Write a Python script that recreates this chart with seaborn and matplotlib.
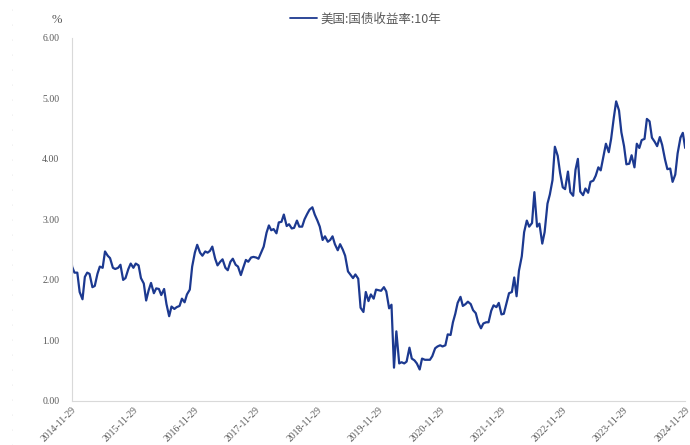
import numpy as np
import pandas as pd
import seaborn as sns
import matplotlib.pyplot as plt
import matplotlib.dates as mdates
from matplotlib.lines import Line2D

# US 10y treasury yield (%), sampled on the 1st and 15th of each month,
# one list per tick year (Dec .. Nov)
start_val = 2.28   # 2014-11-29
end_val = 4.18     # 2024-11-29
y2015 = [2.22, 2.12, 2.12, 1.80, 1.68, 2.05, 2.12, 2.10, 1.88, 1.90, 2.10, 2.22,
         2.20, 2.47, 2.40, 2.36, 2.20, 2.18, 2.20, 2.25, 2.00, 2.03, 2.18, 2.27]
y2016 = [2.20, 2.27, 2.24, 2.03, 1.94, 1.66, 1.83, 1.95, 1.78, 1.86, 1.85, 1.75,
         1.85, 1.60, 1.40, 1.56, 1.52, 1.55, 1.57, 1.69, 1.63, 1.76, 1.84, 2.22]
y2017 = [2.45, 2.58, 2.45, 2.40, 2.47, 2.45, 2.48, 2.55, 2.35, 2.24, 2.30, 2.34,
         2.20, 2.16, 2.30, 2.35, 2.25, 2.22, 2.08, 2.20, 2.33, 2.30, 2.37, 2.38]
y2018 = [2.37, 2.35, 2.46, 2.55, 2.78, 2.90, 2.82, 2.84, 2.77, 2.95, 2.96, 3.08,
         2.89, 2.92, 2.85, 2.86, 2.98, 2.88, 2.88, 3.00, 3.09, 3.16, 3.20, 3.08]
y2019 = [2.98, 2.88, 2.66, 2.72, 2.63, 2.66, 2.72, 2.59, 2.49, 2.59, 2.50, 2.40,
         2.14, 2.09, 2.03, 2.09, 2.02, 1.54, 1.47, 1.80, 1.65, 1.76, 1.69, 1.84]
y2020 = [1.83, 1.82, 1.88, 1.81, 1.53, 1.59, 0.55, 1.15, 0.62, 0.64, 0.62, 0.65,
         0.88, 0.70, 0.67, 0.62, 0.52, 0.70, 0.68, 0.68, 0.68, 0.74, 0.87, 0.90]
y2021 = [0.92, 0.90, 0.92, 1.10, 1.09, 1.30, 1.44, 1.62, 1.72, 1.57, 1.60, 1.64,
         1.60, 1.50, 1.45, 1.30, 1.20, 1.28, 1.30, 1.30, 1.49, 1.58, 1.55, 1.62]
y2022 = [1.43, 1.44, 1.63, 1.78, 1.80, 2.04, 1.73, 2.15, 2.39, 2.79, 2.98, 2.88,
         2.94, 3.45, 2.88, 2.93, 2.60, 2.79, 3.26, 3.41, 3.65, 4.20, 4.05, 3.77]
y2023 = [3.53, 3.50, 3.79, 3.45, 3.39, 3.82, 4.00, 3.46, 3.40, 3.51, 3.44, 3.62,
         3.64, 3.72, 3.86, 3.81, 4.05, 4.25, 4.11, 4.33, 4.68, 4.95, 4.80, 4.44]
y2024 = [4.21, 3.91, 3.92, 4.06, 3.86, 4.25, 4.18, 4.31, 4.33, 4.66, 4.62, 4.35,
         4.28, 4.21, 4.36, 4.23, 3.99, 3.83, 3.84, 3.62, 3.74, 4.09, 4.35, 4.43]

tick_labels = ["2014-11-29", "2015-11-29", "2016-11-29", "2017-11-29", "2018-11-29",
               "2019-11-29", "2020-11-29", "2021-11-29", "2022-11-29", "2023-11-29",
               "2024-11-29"]
series_name = "美国:国债收益率:10年"

values = [start_val] + y2015 + y2016 + y2017 + y2018 + y2019 + y2020 \
    + y2021 + y2022 + y2023 + y2024 + [end_val]
dates = [pd.Timestamp(tick_labels[0])] \
    + list(pd.date_range("2014-12-01", periods=240, freq="SMS")) \
    + [pd.Timestamp(tick_labels[-1])]
df = pd.DataFrame({"date": dates, "value": values})

sns.set_style("white")
grey = "#595959"
line_c = "#1c3990"

fig = plt.figure(figsize=(6.9, 4.45), dpi=100)
ax = fig.add_axes([0.104, 0.099, 0.889, 0.816])

sns.lineplot(data=df, x="date", y="value", ax=ax, color=line_c, lw=1.6, label=series_name)

ticks = pd.to_datetime(tick_labels)
ax.set_xlim(ticks[0], ticks[-1])
ax.set_xticks(ticks)
ax.xaxis.set_major_formatter(mdates.DateFormatter("%Y-%m-%d"))
ax.set_ylim(0, 6)
ax.set_yticks(np.arange(0, 6.01, 1))
ax.yaxis.set_major_formatter(plt.FormatStrFormatter("%.2f"))
ax.set_xlabel("")
ax.set_ylabel("")

for s in ["top", "right"]:
    ax.spines[s].set_visible(False)
for s in ["left", "bottom"]:
    ax.spines[s].set_color("#d9d9d9")
    ax.spines[s].set_linewidth(0.8)

ax.tick_params(axis="both", length=0, colors=grey)
ax.tick_params(axis="y", pad=9)
ax.tick_params(axis="x", pad=3)
for t in ax.get_yticklabels():
    t.set_fontfamily("Liberation Serif")
    t.set_fontsize(7)
for t in ax.get_xticklabels():
    t.set_fontfamily("Liberation Serif")
    t.set_fontsize(7)
    t.set_rotation(45)
    t.set_ha("right")
    t.set_rotation_mode("anchor")

ax.get_legend().remove()
leg = fig.legend(handles=[Line2D([], [], color=line_c, lw=1.3)], labels=[series_name],
                 loc="center", bbox_to_anchor=(0.53, 0.957), frameon=False,
                 handlelength=2.2, handletextpad=0.3,
                 prop={"family": ["Noto Sans CJK SC", "DejaVu Sans"], "size": 9})
for t in leg.get_texts():
    t.set_color(grey)

fig.text(0.083, 0.955, "%", ha="center", va="center", color=grey,
         fontsize=9, fontfamily="Liberation Serif")

# faint dotted guide on the far left
fig.add_artist(Line2D([0.017, 0.017], [0.0, 1.0], transform=fig.transFigure,
                      color="#e0e0e0", lw=0.6, ls=(0, (1, 17))))

fig.savefig("out.png", dpi=100)
